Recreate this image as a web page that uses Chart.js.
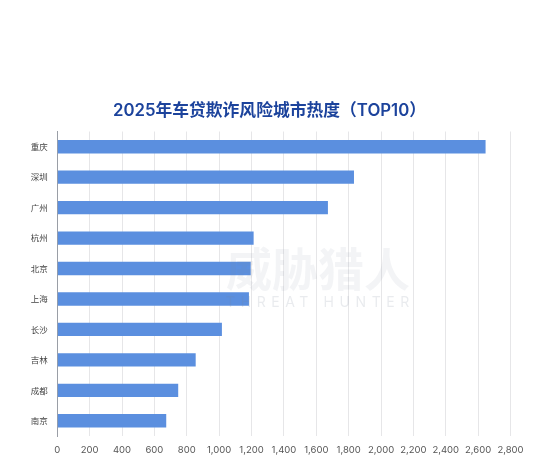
<!DOCTYPE html>
<html><head><meta charset="utf-8">
<style>html,body{margin:0;padding:0;background:#fff}#w{position:absolute;left:0;top:0;width:543px;height:475px}
#t{position:absolute;left:0;width:531px;padding-left:4px;top:97px;text-align:center;font:600 16.8px "Inter","Noto Sans CJK SC",sans-serif;color:#1c439c;line-height:26px;white-space:nowrap}
#m1{position:absolute;left:226px;top:238px;font:700 46px "Noto Sans CJK SC",sans-serif;color:rgba(120,130,150,.09);line-height:56px;white-space:nowrap}
#m2{position:absolute;left:226px;top:292px;font:400 14px "Inter",sans-serif;color:rgba(120,130,150,.16);letter-spacing:5.6px;line-height:20px;white-space:nowrap}
</style>
<script src="https://cdn.jsdelivr.net/npm/chart.js@4"></script></head>
<body><div id="w"><canvas id="c" width="543" height="475"></canvas></div>
<div id="t">2025年车贷欺诈风险城市热度（TOP10）</div>
<div id="m1">威胁猎人</div><div id="m2">THREAT HUNTER</div>
<script>
const categories=["重庆","深圳","广州","杭州","北京","上海","长沙","吉林","成都","南京"];
const heat=[2646,1833,1672,1213,1195,1184,1017,855,747,673];
new Chart(document.getElementById('c'),{type:'bar',
data:{labels:categories,datasets:[{data:heat,backgroundColor:'#5b8fdf',borderWidth:0,barPercentage:.44,categoryPercentage:1}]},
options:{indexAxis:'y',responsive:false,animation:false,
layout:{padding:{left:0,right:32.5,top:131.5,bottom:0}},
plugins:{legend:{display:false},tooltip:{enabled:false},title:{display:false}},
scales:{
x:{min:0,max:2800,afterFit(s){s.height=39},grid:{color:'#e6e6e8',lineWidth:1,drawTicks:false},border:{display:false},
ticks:{stepSize:200,color:'#555',padding:8,maxRotation:0,autoSkip:false,font:{size:9.5,family:'"Inter","Noto Sans",sans-serif'},callback:v=>v.toLocaleString('en-US')}},
y:{afterFit(s){s.width=57.3},grid:{display:false,drawTicks:false},border:{display:true,color:'#9a9ea6',width:1},
ticks:{color:'#444',padding:9.5,font:{size:8.5,family:'"Noto Sans CJK SC",sans-serif'}}}
}
}
});
</script></body></html>
